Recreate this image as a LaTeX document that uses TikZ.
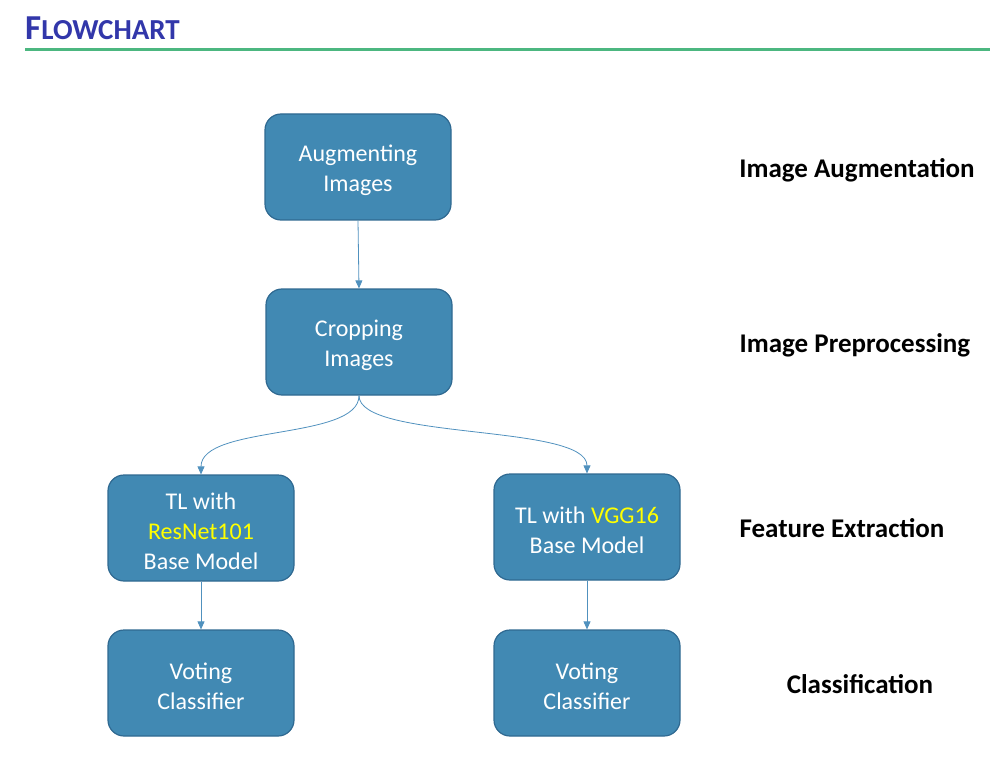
\documentclass[tikz,border=0pt]{standalone}
\usepackage{fontspec}
\setmainfont{Carlito}
\usetikzlibrary{arrows.meta}
\definecolor{boxfill}{RGB}{65,137,179}
\definecolor{boxedge}{RGB}{47,105,145}
\definecolor{arr}{RGB}{80,145,190}
\definecolor{titleblue}{RGB}{50,55,170}
\definecolor{rulegreen}{RGB}{76,183,128}
\definecolor{hl}{RGB}{255,255,0}
\newcommand\firststrut{\rule{0pt}{24pt}}
\tikzset{
  x=1pt, y=-1pt,
  procbox/.style={draw=boxedge, line width=1.2pt, fill=boxfill, rounded corners=16pt,
    minimum width=186pt, minimum height=106pt, text=white, align=center,
    font=\fontsize{24}{30}\selectfont, inner sep=0pt},
  stagelabel/.style={font=\fontsize{27}{32}\selectfont\bfseries, text=black, inner sep=0pt},
  conn/.style={draw=arr, line width=0.8pt, -{Triangle[length=8pt,width=7pt]}},
}
\begin{document}
\begin{tikzpicture}
\useasboundingbox (0,0) rectangle (996,770);
\node[anchor=base west, text=titleblue, inner sep=0pt] (title) at (25,40)
  {\fontsize{35}{38}\selectfont\bfseries F\fontsize{29}{32}\selectfont LOWCHART};
\coordinate (rl) at (25,50);
\coordinate (rr) at (990,50);
\draw[rulegreen, line width=3pt] (rl) -- (rr);

\node[procbox] (aug) at (358,167) {\firststrut Augmenting\\Images};
\node[procbox] (crop) at (359,342) {\firststrut Cropping\\Images};
\node[procbox] (res) at (201,528) {\firststrut TL with\\\textcolor{hl}{ResNet101}\\Base Model};
\node[procbox] (vgg) at (587,527) {\firststrut TL with \textcolor{hl}{VGG16}\\Base Model};
\node[procbox] (vl) at (201,683) {\firststrut Voting\\Classifier};
\node[procbox] (vr) at (587,683) {\firststrut Voting\\Classifier};

\node[stagelabel] (l1) at (857,170) {Image Augmentation};
\node[stagelabel] (l2) at (855,345) {Image Preprocessing};
\node[stagelabel] (l3) at (842,528) {Feature Extraction};
\node[stagelabel] (l4) at (860,684) {Classification};

\draw[conn] (aug.south) -- (crop.north);
\draw[conn] (crop.south) .. controls ([yshift=-45pt]crop.south) and ([yshift=50pt]res.north) .. (res.north);
\draw[conn] (crop.south) .. controls ([yshift=-45pt]crop.south) and ([yshift=50pt]vgg.north) .. (vgg.north);
\draw[conn] (res.south) -- (vl.north);
\draw[conn] (vgg.south) -- (vr.north);
\end{tikzpicture}
\end{document}
